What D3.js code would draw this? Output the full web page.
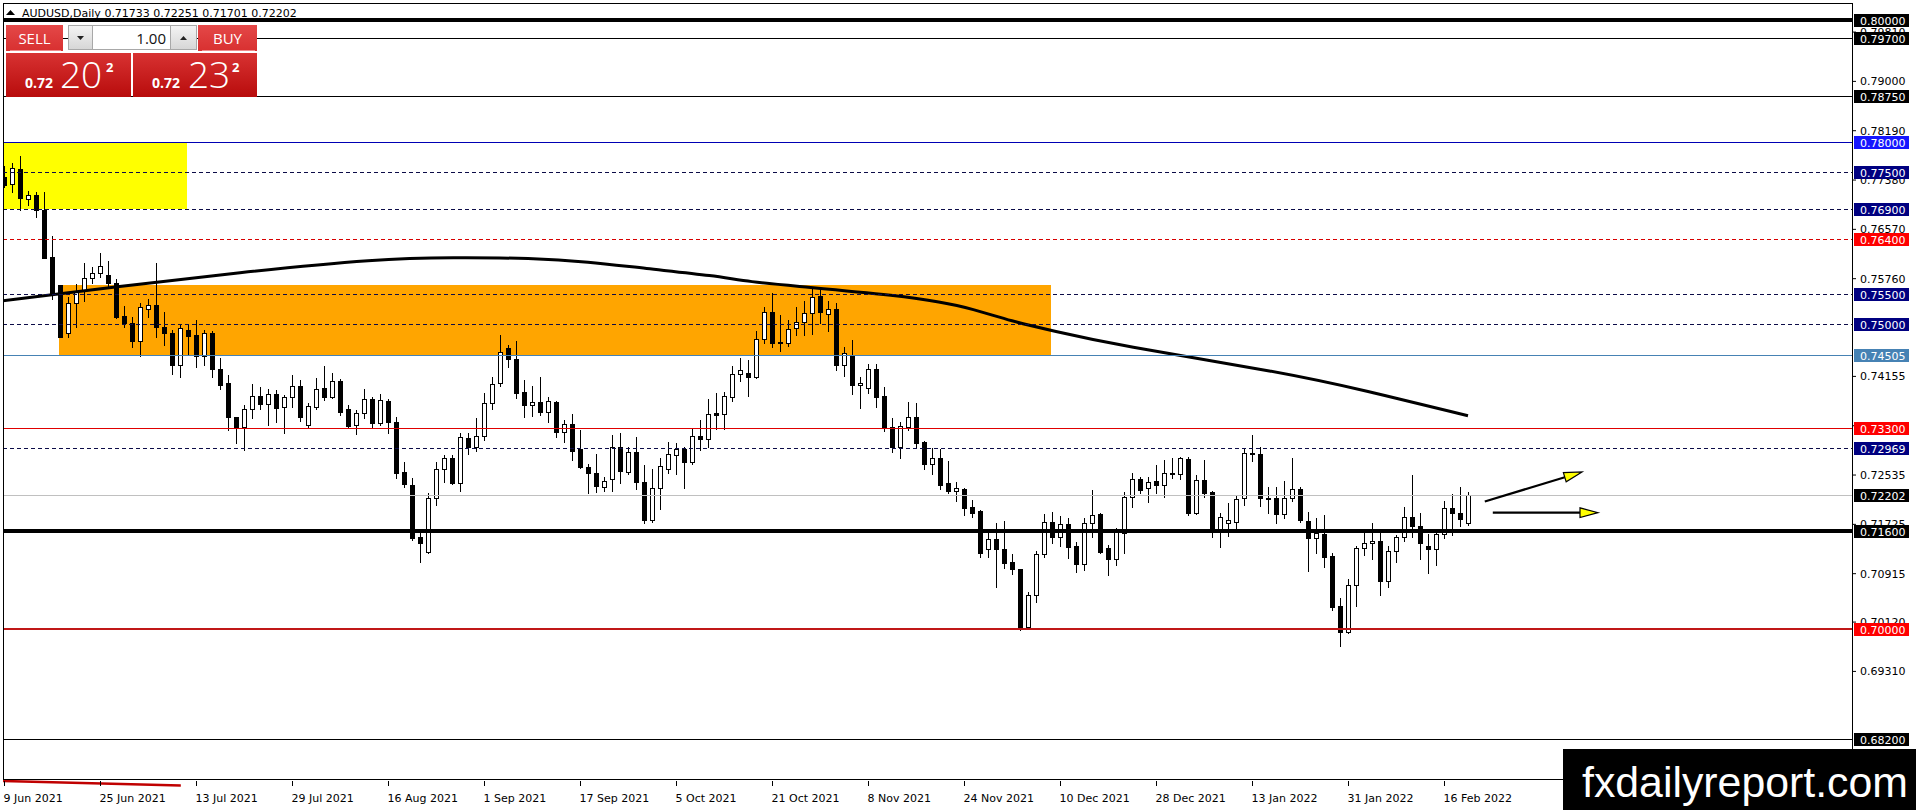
<!DOCTYPE html>
<html>
<head>
<meta charset="utf-8">
<script src="https://cdn.jsdelivr.net/npm/d3@7"></script>
<style>
  html, body { margin: 0; padding: 0; background: #fff; }
  svg { display: block; font-family: "DejaVu Sans", sans-serif; }
</style>
</head>
<body>
<svg id="chart" width="1916" height="810"></svg>
<script>
// AUDUSD daily candles, bar 0 = 9 Jun 2021, last bar = 21 Feb 2022
var opens = [
  0.77427,0.77301,0.77547,0.77054,0.77120,0.76879,0.76102,0.75642,0.74853,0.75346,
  0.75565,0.75757,0.75839,0.75806,0.75686,0.75138,0.75018,0.74733,0.75248,0.75319,
  0.74963,0.74853,0.74333,0.74908,0.74826,0.74487,0.74853,0.74262,0.74032,0.73474,
  0.73320,0.73605,0.73829,0.73687,0.73851,0.73649,0.73802,0.73994,0.73348,0.73649,
  0.73950,0.73813,0.74070,0.73605,0.73348,0.73539,0.73769,0.73386,0.73742,0.73403,
  0.72571,0.72363,0.71503,0.71257,0.72144,0.72620,0.72801,0.72401,0.73129,0.72992,
  0.73173,0.73704,0.74033,0.74618,0.74427,0.73885,0.73682,0.73720,0.73567,0.73720,
  0.73239,0.73359,0.72954,0.72653,0.72554,0.72335,0.72456,0.72992,0.72582,0.72899,
  0.72406,0.71788,0.72308,0.72620,0.72855,0.72948,0.72746,0.73168,0.73113,0.73540,
  0.73523,0.73814,0.74180,0.74208,0.74142,0.74755,0.75199,0.74717,0.74700,0.74936,
  0.75045,0.75182,0.75467,0.75166,0.75248,0.74334,0.74498,0.74005,0.73950,0.74268,
  0.73824,0.73321,0.72992,0.73321,0.73485,0.73063,0.72702,0.72801,0.72390,0.72270,
  0.72297,0.71996,0.71941,0.71306,0.71470,0.71306,0.71093,0.70983,0.70036,0.70556,
  0.71224,0.71750,0.71514,0.71722,0.71361,0.71065,0.71733,0.71886,0.71323,0.71142,
  0.71580,0.72160,0.72456,0.72308,0.72434,0.72357,0.72560,0.72544,0.72790,0.71908,
  0.72445,0.72242,0.71635,0.71744,0.71761,0.72144,0.72894,0.72867,0.72149,0.72144,
  0.71887,0.72144,0.72292,0.71772,0.71487,0.71558,0.71197,0.70376,0.69954,0.70720,
  0.71323,0.71405,0.71443,0.70792,0.71284,0.71503,0.71832,0.71695,0.71361,0.71306,
  0.71558,0.71980,0.71898,0.71733
];
var highs = [
  0.77600,0.77645,0.77766,0.77191,0.77180,0.77180,0.76457,0.75642,0.75456,0.75664,
  0.76003,0.75937,0.76178,0.76041,0.75746,0.75302,0.75116,0.75357,0.75412,0.76014,
  0.75209,0.74908,0.75001,0.75001,0.75072,0.74908,0.74892,0.74448,0.74169,0.73474,
  0.73671,0.74021,0.73966,0.73933,0.73922,0.73840,0.74169,0.74087,0.73704,0.74114,
  0.74317,0.74196,0.74098,0.73671,0.73594,0.73933,0.73813,0.73857,0.73770,0.73474,
  0.72746,0.72472,0.71580,0.72237,0.72746,0.72855,0.72855,0.73211,0.73222,0.73458,
  0.73879,0.74142,0.74826,0.74662,0.74728,0.74087,0.73989,0.74131,0.73803,0.73748,
  0.73430,0.73529,0.73266,0.72708,0.72872,0.72499,0.73184,0.73211,0.72981,0.73157,
  0.72691,0.72620,0.72801,0.73074,0.73047,0.72981,0.73277,0.73430,0.73770,0.73879,
  0.73896,0.74317,0.74443,0.74416,0.74892,0.75281,0.75511,0.75155,0.75073,0.75281,
  0.75390,0.75593,0.75566,0.75390,0.75347,0.74624,0.74744,0.74131,0.74350,0.74345,
  0.73978,0.73458,0.73403,0.73731,0.73715,0.73091,0.72965,0.72949,0.72762,0.72407,
  0.72308,0.72116,0.71952,0.71624,0.71744,0.71777,0.71229,0.70983,0.70611,0.71279,
  0.71886,0.71914,0.71859,0.71815,0.71432,0.71815,0.72280,0.71897,0.71377,0.71651,
  0.72253,0.72555,0.72489,0.72489,0.72691,0.72774,0.72801,0.72828,0.72817,0.72527,
  0.72774,0.72270,0.71908,0.72062,0.72182,0.72965,0.73184,0.72982,0.72336,0.72325,
  0.72429,0.72801,0.72325,0.71914,0.71815,0.71870,0.71241,0.70501,0.70813,0.71361,
  0.71596,0.71733,0.71580,0.71361,0.71542,0.72007,0.72527,0.71897,0.71558,0.71613,
  0.72106,0.72210,0.72325,0.72251
];
var lows = [
  0.77250,0.77180,0.76879,0.76961,0.76759,0.76085,0.75412,0.74787,0.74787,0.74952,
  0.75390,0.75675,0.75784,0.75609,0.75100,0.74952,0.74634,0.74481,0.75127,0.74798,
  0.74662,0.74185,0.74131,0.74514,0.74306,0.74333,0.74142,0.73944,0.73266,0.73047,
  0.72937,0.73457,0.73605,0.73348,0.73403,0.73211,0.73638,0.73419,0.73320,0.73616,
  0.73758,0.73786,0.73512,0.73320,0.73200,0.73457,0.73293,0.73348,0.73222,0.72472,
  0.72324,0.71459,0.71103,0.71241,0.72034,0.72417,0.72379,0.72270,0.72872,0.72927,
  0.73102,0.73605,0.73989,0.74295,0.73786,0.73485,0.73501,0.73512,0.73403,0.73157,
  0.73063,0.72773,0.72636,0.72237,0.72253,0.72270,0.72270,0.72401,0.72538,0.72297,
  0.71744,0.71760,0.71963,0.72554,0.72538,0.72308,0.72708,0.72938,0.72981,0.73277,
  0.73277,0.73748,0.74076,0.73824,0.74115,0.74700,0.74624,0.74569,0.74646,0.74826,
  0.74826,0.74843,0.75018,0.74897,0.74252,0.74153,0.73857,0.73633,0.73879,0.73649,
  0.73255,0.72910,0.72801,0.73266,0.72965,0.72625,0.72538,0.72297,0.72237,0.72105,
  0.71870,0.71843,0.71175,0.71186,0.70682,0.71005,0.70901,0.69981,0.70025,0.70446,
  0.71186,0.71405,0.71361,0.71158,0.70939,0.70967,0.71514,0.71240,0.70884,0.71049,
  0.71241,0.72007,0.72226,0.72089,0.72237,0.72171,0.72472,0.72461,0.71870,0.71887,
  0.72171,0.71503,0.71339,0.71525,0.71651,0.72034,0.72763,0.72018,0.71897,0.71744,
  0.71815,0.72106,0.71761,0.70956,0.71251,0.71011,0.70310,0.69718,0.69927,0.70375,
  0.71213,0.71142,0.70556,0.70693,0.71104,0.71449,0.71514,0.71142,0.70912,0.71049,
  0.71487,0.71542,0.71690,0.71701
];
var closes = [
  0.77290,0.77563,0.77082,0.77120,0.76879,0.76096,0.75510,0.74798,0.75346,0.75527,
  0.75757,0.75839,0.75959,0.75686,0.75127,0.75018,0.74733,0.75291,0.75319,0.74963,
  0.74853,0.74333,0.74935,0.74815,0.74487,0.74853,0.74262,0.73999,0.73474,0.73320,
  0.73605,0.73829,0.73687,0.73851,0.73632,0.73802,0.73994,0.73474,0.73660,0.73933,
  0.73813,0.74070,0.73567,0.73331,0.73539,0.73769,0.73375,0.73759,0.73403,0.72565,
  0.72374,0.71487,0.71405,0.72144,0.72620,0.72801,0.72401,0.73157,0.72992,0.73173,
  0.73704,0.74022,0.74542,0.74427,0.73879,0.73682,0.73720,0.73556,0.73742,0.73239,
  0.73359,0.72927,0.72664,0.72565,0.72346,0.72434,0.72992,0.72598,0.72899,0.72417,
  0.71788,0.72308,0.72675,0.72872,0.72948,0.72746,0.73168,0.73113,0.73523,0.73518,
  0.73824,0.74180,0.74252,0.74142,0.74755,0.75199,0.74690,0.74700,0.74925,0.75045,
  0.75182,0.75456,0.75210,0.75248,0.74334,0.74525,0.74005,0.74043,0.74268,0.73813,
  0.73321,0.72992,0.73337,0.73485,0.73058,0.72702,0.72801,0.72363,0.72264,0.72308,
  0.71990,0.71908,0.71251,0.71470,0.71306,0.71087,0.70977,0.70036,0.70556,0.71224,
  0.71750,0.71514,0.71722,0.71350,0.71065,0.71733,0.71870,0.71268,0.71142,0.71585,
  0.72171,0.72456,0.72281,0.72418,0.72357,0.72555,0.72544,0.72801,0.71897,0.72445,
  0.72237,0.71635,0.71843,0.71788,0.72127,0.72883,0.72867,0.72144,0.72133,0.71881,
  0.72144,0.72292,0.71788,0.71487,0.71569,0.71186,0.70365,0.69943,0.70720,0.71323,
  0.71405,0.71443,0.70792,0.71284,0.71514,0.71832,0.71689,0.71405,0.71306,0.71558,
  0.71980,0.71898,0.71799,0.72202
];

// moving average (bar index / price)
var maIdx = [0, 14, 29, 47, 56, 66, 73, 80, 89, 93, 100, 112, 117, 121, 126, 131, 139, 160, 170, 183];
var maVal = [0.7539, 0.7562, 0.7585, 0.7608, 0.7610, 0.7609, 0.7603, 0.7592, 0.7580, 0.7570, 0.7562,
             0.7547, 0.7537, 0.7526, 0.7505, 0.7490, 0.7466, 0.7421, 0.7392, 0.7350];

// horizontal levels
var levelPrices = [0.80000, 0.79700, 0.78750, 0.78000, 0.77500, 0.76900, 0.76400, 0.75500,
                   0.75000, 0.74505, 0.73300, 0.72969, 0.72202, 0.71600, 0.70000, 0.68200];
var levelKinds = ['heavy', 'thin', 'thin', 'blue', 'navyDash', 'navyDash', 'redDash', 'navyDash',
                  'navyDash', 'steel', 'red', 'navyDash', 'bid', 'heavy', 'redBold', 'thin'];

// price axis tick labels
var axisTicks = [0.79810, 0.79000, 0.78190, 0.77380, 0.76570, 0.75760, 0.74155, 0.73345,
                 0.72535, 0.71725, 0.70915, 0.70120, 0.69310];

// time axis labels
var dateIdx = [0, 12, 24, 36, 48, 60, 72, 84, 96, 108, 120, 132, 144, 156, 168, 180];
var dateLabels = ['9 Jun 2021', '25 Jun 2021', '13 Jul 2021', '29 Jul 2021', '16 Aug 2021', '1 Sep 2021',
                  '17 Sep 2021', '5 Oct 2021', '21 Oct 2021', '8 Nov 2021', '24 Nov 2021', '10 Dec 2021',
                  '28 Dec 2021', '13 Jan 2022', '31 Jan 2022', '16 Feb 2022'];

// zones (bar index range / price range)
var zoneNames = ['yellow', 'orange'];
var zoneFromIdx = [-2, 6.85];
var zoneToIdx = [22.85, 130.85];
var zoneTop = [0.78000, 0.75650];
var zoneBottom = [0.76900, 0.74505];

// arrows
var arrowFromIdx = [185.1, 186.1];
var arrowFromPrice = [0.72092, 0.71909];
var arrowToIdx = [197.25, 199.25];
var arrowToPrice = [0.72577, 0.71909];

// small red trend line under the bottom-left corner
var trendIdx = [-0.12, 22.1];
var trendPrice = [0.67502, 0.67428];

var bidPrice = 0.72202;
var askPrice = 0.72232;
var lotSize = '1.00';

// ---------------------------------------------------------------
var W = 1916, H = 810;
var frame = {left: 3, top: 3, right: 1852, bottom: 779};

var levelStyle = {
  heavy:    {stroke: '#000',    width: 4, dash: null,  box: '#000'},
  thin:     {stroke: '#000',    width: 1, dash: null,  box: '#000'},
  blue:     {stroke: '#0000b4', width: 1, dash: null,  box: '#1616ff'},
  navyDash: {stroke: '#0c0c48', width: 1, dash: '4,3', box: '#000080'},
  redDash:  {stroke: '#d80000', width: 1, dash: '4,3', box: '#ff0000'},
  steel:    {stroke: '#4682b4', width: 1, dash: null,  box: '#4682b4'},
  red:      {stroke: '#e00000', width: 1, dash: null,  box: '#ff0000'},
  bid:      {stroke: '#c0c0c0', width: 1, dash: null,  box: '#000'},
  redBold:  {stroke: '#c01818', width: 2, dash: null,  box: '#ff0000'}
};
var zoneColor = {yellow: '#ffff00', orange: '#ffa500'};

var xScale = d3.scaleLinear().domain([0, 231]).range([4, 4 + 8 * 231]);
var yScale = d3.scaleLinear().domain([0.80, 0.70]).range([20, 628.9]);

var svg = d3.select('#chart');
svg.append('rect').attr('width', W).attr('height', H).attr('fill', '#fff');

var defs = svg.append('defs');
defs.append('clipPath').attr('id', 'plotClip')
  .append('rect')
  .attr('x', frame.left).attr('y', frame.top)
  .attr('width', frame.right - frame.left).attr('height', frame.bottom - frame.top);

function gradient(id, c1, c2) {
  var g = defs.append('linearGradient').attr('id', id)
    .attr('x1', 0).attr('y1', 0).attr('x2', 0).attr('y2', 1);
  g.append('stop').attr('offset', '0%').attr('stop-color', c1);
  g.append('stop').attr('offset', '100%').attr('stop-color', c2);
}
gradient('btnRed', '#e44848', '#d83030');
gradient('priceRed', '#d83232', '#b80c0c');
gradient('btnGray', '#f4f4f4', '#d6d6d6');

var plot = svg.append('g').attr('clip-path', 'url(#plotClip)');

/* zones */
var zones = zoneNames.map(function(n, k) {
  return {name: n, x0: zoneFromIdx[k], x1: zoneToIdx[k], top: zoneTop[k], bottom: zoneBottom[k]};
});
plot.selectAll('.zone').data(zones).enter()
  .append('rect')
  .attr('class', 'zone')
  .attr('x', function(d) { return Math.round(xScale(d.x0)); })
  .attr('y', function(d) { return Math.round(yScale(d.top)); })
  .attr('width', function(d) { return Math.round(xScale(d.x1)) - Math.round(xScale(d.x0)); })
  .attr('height', function(d) { return Math.round(yScale(d.bottom)) - Math.round(yScale(d.top)); })
  .attr('fill', function(d) { return zoneColor[d.name]; });

/* candles */
var candles = opens.map(function(o, i) {
  return {i: i, o: o, h: highs[i], l: lows[i], c: closes[i]};
});
var cg = plot.append('g').attr('shape-rendering', 'crispEdges');

cg.selectAll('.wick').data(candles).enter()
  .append('line')
  .attr('class', 'wick')
  .attr('x1', function(d) { return Math.round(xScale(d.i)) + 0.5; })
  .attr('x2', function(d) { return Math.round(xScale(d.i)) + 0.5; })
  .attr('y1', function(d) { return Math.round(yScale(d.h)); })
  .attr('y2', function(d) { return Math.round(yScale(d.l)) + 1; })
  .attr('stroke', '#000').attr('stroke-width', 1);

cg.selectAll('.body').data(candles).enter()
  .append('rect')
  .attr('class', 'body')
  .each(function(d) {
    var top = Math.round(yScale(Math.max(d.o, d.c)));
    var bot = Math.round(yScale(Math.min(d.o, d.c)));
    var cx = Math.round(xScale(d.i));
    var el = d3.select(this);
    if (d.c > d.o) {
      el.attr('x', cx - 1.5).attr('y', top + 0.5)
        .attr('width', 4).attr('height', Math.max(bot - top, 1))
        .attr('fill', '#fff').attr('stroke', '#000').attr('stroke-width', 1);
    } else {
      el.attr('x', cx - 2).attr('y', top)
        .attr('width', 5).attr('height', Math.max(bot - top + 1, 1))
        .attr('fill', '#000');
    }
  });

/* moving average */
var maLine = d3.line()
  .x(function(d) { return xScale(d[0]); })
  .y(function(d) { return yScale(d[1]); })
  .curve(d3.curveBasis);
plot.append('path')
  .datum([[-1, maVal[0] - 0.00015]].concat(maIdx.map(function(v, k) { return [v, maVal[k]]; })))
  .attr('d', maLine)
  .attr('fill', 'none')
  .attr('stroke', '#000')
  .attr('stroke-width', 3);

/* horizontal levels */
var levels = levelPrices.map(function(p, k) { return {p: p, kind: levelKinds[k]}; });
plot.append('g').attr('shape-rendering', 'crispEdges')
  .selectAll('line').data(levels).enter()
  .append('line')
  .attr('x1', frame.left).attr('x2', frame.right)
  .attr('y1', function(d) { var s = levelStyle[d.kind]; return Math.round(yScale(d.p)) + (s.width % 2 ? 0.5 : 0); })
  .attr('y2', function(d) { var s = levelStyle[d.kind]; return Math.round(yScale(d.p)) + (s.width % 2 ? 0.5 : 0); })
  .attr('stroke', function(d) { return levelStyle[d.kind].stroke; })
  .attr('stroke-width', function(d) { return levelStyle[d.kind].width; })
  .attr('stroke-dasharray', function(d) { return levelStyle[d.kind].dash; });

/* arrows */
var arrows = arrowFromIdx.map(function(v, k) {
  return {
    x1: xScale(v), y1: yScale(arrowFromPrice[k]),
    x2: xScale(arrowToIdx[k]), y2: yScale(arrowToPrice[k])
  };
});
var ag = plot.append('g');
arrows.forEach(function(a) {
  var dx = a.x2 - a.x1, dy = a.y2 - a.y1;
  var len = Math.sqrt(dx * dx + dy * dy);
  var ux = dx / len, uy = dy / len;
  var headLen = 18, half = 4.8;
  var bx = a.x2 - ux * headLen, by = a.y2 - uy * headLen;
  ag.append('line')
    .attr('x1', a.x1).attr('y1', a.y1).attr('x2', bx).attr('y2', by)
    .attr('stroke', '#000').attr('stroke-width', 2.2);
  ag.append('polygon')
    .attr('points', [
      [a.x2, a.y2],
      [bx - uy * half, by + ux * half],
      [bx + uy * half, by - ux * half]
    ].map(function(p) { return p.join(','); }).join(' '))
    .attr('fill', '#ffff00').attr('stroke', '#000').attr('stroke-width', 1.2);
});

/* red trend line below the frame */
svg.append('line')
  .attr('x1', xScale(trendIdx[0])).attr('y1', yScale(trendPrice[0]))
  .attr('x2', xScale(trendIdx[1])).attr('y2', yScale(trendPrice[1]))
  .attr('stroke', '#c00000').attr('stroke-width', 2.4);

/* frame */
svg.append('rect')
  .attr('x', frame.left + 0.5).attr('y', frame.top + 0.5)
  .attr('width', frame.right - frame.left).attr('height', frame.bottom - frame.top)
  .attr('fill', 'none').attr('stroke', '#000').attr('stroke-width', 1)
  .attr('shape-rendering', 'crispEdges');

/* price axis */
var yAxis = d3.axisRight(yScale)
  .tickValues(axisTicks)
  .tickFormat(d3.format('.5f'))
  .tickSize(4)
  .tickPadding(4);
var ya = svg.append('g')
  .attr('transform', 'translate(' + frame.right + ',0)')
  .call(yAxis);
ya.select('.domain').remove();
ya.attr('font-family', '"DejaVu Sans", sans-serif').attr('font-size', 11);
ya.selectAll('text').attr('fill', '#000').attr('dy', 0).attr('y', 4);
ya.selectAll('line').attr('stroke', '#000');

/* level boxes on the price axis */
var bg = svg.append('g').attr('font-size', 11);
bg.selectAll('rect').data(levels).enter()
  .append('rect')
  .attr('x', frame.right + 2)
  .attr('y', function(d) { return Math.round(yScale(d.p)) - 6; })
  .attr('width', 55).attr('height', 13)
  .attr('fill', function(d) { return levelStyle[d.kind].box; })
  .attr('shape-rendering', 'crispEdges');
bg.selectAll('text').data(levels).enter()
  .append('text')
  .attr('x', frame.right + 8)
  .attr('y', function(d) { return Math.round(yScale(d.p)) + 4.5; })
  .attr('fill', '#fff')
  .text(function(d) { return d3.format('.5f')(d.p); });

/* time axis */
var xAxis = d3.axisBottom(xScale)
  .tickValues(dateIdx)
  .tickFormat(function(d, k) { return dateLabels[k]; })
  .tickSize(5);
var xa = svg.append('g')
  .attr('transform', 'translate(0,' + (frame.bottom + 2) + ')')
  .call(xAxis);
xa.select('.domain').remove();
xa.attr('font-family', '"DejaVu Sans", sans-serif').attr('font-size', 11);
xa.selectAll('text')
  .attr('text-anchor', 'start')
  .attr('x', -1).attr('y', 20.5).attr('dy', 0)
  .attr('fill', '#000');
xa.selectAll('line').attr('stroke', '#000');

/* header */
var last = opens.length - 1;
svg.append('path')
  .attr('d', 'M6,15 L10.5,10 L15,15 Z')
  .attr('fill', '#000');
svg.append('text')
  .attr('x', 22).attr('y', 16.5)
  .attr('font-size', 11)
  .attr('fill', '#000')
  .text('AUDUSD,Daily  ' + [opens[last], highs[last], lows[last], closes[last]]
    .map(function(v) { return v.toFixed(5); }).join(' '));

/* one-click trading panel */
var panel = svg.append('g').attr('font-family', '"Open Sans", "DejaVu Sans", sans-serif');

function button(x, w, label) {
  panel.append('rect').attr('x', x).attr('y', 25).attr('width', w).attr('height', 26)
    .attr('fill', 'url(#btnRed)');
  panel.append('line').attr('x1', x + 4).attr('x2', x + w - 2).attr('y1', 50.5).attr('y2', 50.5)
    .attr('stroke', '#f08a8a').attr('stroke-width', 1);
  panel.append('text').attr('x', x + w / 2).attr('y', 44)
    .attr('text-anchor', 'middle').attr('fill', '#fff').attr('font-size', 15)
    .text(label);
}
button(6, 57, 'SELL');
button(198, 59, 'BUY');

// lot spinner
panel.append('rect').attr('x', 68.5).attr('y', 25.5).attr('width', 24).attr('height', 24)
  .attr('fill', 'url(#btnGray)').attr('stroke', '#a8a8a8');
panel.append('path').attr('d', 'M77,36 L84,36 L80.5,40 Z').attr('fill', '#222');
panel.append('rect').attr('x', 92.5).attr('y', 25.5).attr('width', 78).attr('height', 24)
  .attr('fill', '#fff').attr('stroke', '#a8a8a8');
panel.append('rect').attr('x', 170.5).attr('y', 25.5).attr('width', 26).attr('height', 24)
  .attr('fill', 'url(#btnGray)').attr('stroke', '#a8a8a8');
panel.append('path').attr('d', 'M180,40 L187,40 L183.5,36 Z').attr('fill', '#222');
panel.append('text').attr('x', 166).attr('y', 43.5)
  .attr('text-anchor', 'end').attr('font-size', 15).attr('fill', '#111')
  .text(lotSize);

function priceBox(x, w, price, offs) {
  var s = price.toFixed(5);
  panel.append('rect').attr('x', x).attr('y', 53).attr('width', w).attr('height', 44)
    .attr('fill', 'url(#priceRed)');
  panel.append('text').attr('x', x + offs[0]).attr('y', 87.5)
    .attr('font-size', 14).attr('font-weight', 'bold').attr('fill', '#fff')
    .text(s.slice(0, 4));
  panel.append('text').attr('x', x + offs[1]).attr('y', 87.5)
    .attr('font-size', 37).attr('font-weight', 300).attr('fill', '#fff')
    .text(s.slice(4, 6));
  panel.append('text').attr('x', x + offs[2]).attr('y', 71.5)
    .attr('font-size', 13).attr('font-weight', 'bold').attr('fill', '#fff')
    .text(s.slice(6));
}
priceBox(6, 125, bidPrice, [19, 54, 100]);
priceBox(133, 124, askPrice, [19, 55, 99]);

/* watermark */
svg.append('rect').attr('x', 1563).attr('y', 749).attr('width', W - 1563).attr('height', H - 749)
  .attr('fill', '#000');
svg.append('text')
  .attr('x', 1582).attr('y', 797)
  .attr('font-family', '"Liberation Sans", Arial, sans-serif')
  .attr('font-size', 42)
  .attr('textLength', 326)
  .attr('lengthAdjust', 'spacingAndGlyphs')
  .attr('fill', '#fff')
  .text('fxdailyreport.com');
</script>
</body>
</html>
